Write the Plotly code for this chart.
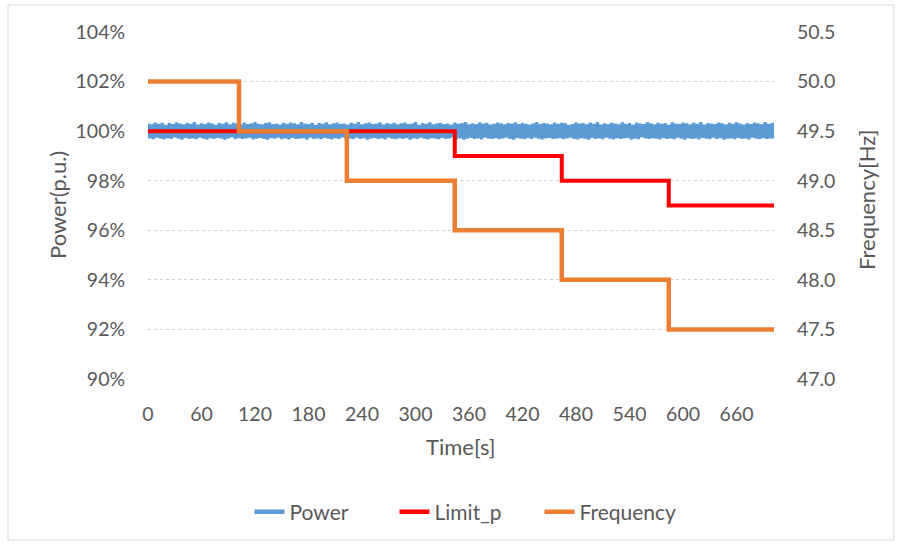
import plotly.graph_objects as go

# ---- data ----
power = [
    100.31, 99.71, 100.27, 99.68, 100.34, 99.74, 100.29, 99.70, 100.33, 99.67, 100.25, 99.72, 100.32, 99.69, 100.28, 99.75,
    100.35, 99.70, 100.30, 99.66, 100.27, 99.73, 100.33, 99.69, 100.29, 99.71, 100.36, 99.68, 100.26, 99.74, 100.31, 99.70,
    100.28, 99.67, 100.34, 99.72, 100.30, 99.69, 100.25, 99.73, 100.32, 99.70, 100.29, 99.66, 100.35, 99.71, 100.27, 99.75,
    100.33, 99.68, 100.30, 99.72, 100.26, 99.69, 100.34, 99.71, 100.28, 99.74, 100.31, 99.67, 100.36, 99.70, 100.29, 99.73,
    100.27, 99.69, 100.32, 99.66, 100.35, 99.72, 100.28, 99.70, 100.30, 99.74, 100.26, 99.68, 100.33, 99.71, 100.29, 99.67,
    100.34, 99.73, 100.31, 99.69, 100.27, 99.70, 100.36, 99.72, 100.30, 99.66, 100.28, 99.74, 100.33, 99.69, 100.25, 99.71,
    100.32, 99.68, 100.29, 99.73, 100.35, 99.70, 100.27, 99.67, 100.31, 99.72, 100.34, 99.69, 100.28, 99.75, 100.30, 99.70,
    100.26, 99.71, 100.33, 99.68, 100.29, 99.74, 100.36, 99.69, 100.27, 99.72, 100.31, 99.66, 100.34, 99.70, 100.28, 99.73,
    100.30, 99.69, 100.35, 99.71, 100.26, 99.67, 100.32, 99.74, 100.29, 99.70, 100.33, 99.68, 100.27, 99.72, 100.31, 99.69,
    100.34, 99.73, 100.28, 99.66, 100.30, 99.71, 100.36, 99.69, 100.25, 99.74, 100.32, 99.70, 100.29, 99.67, 100.35, 99.72,
    100.27, 99.70, 100.31, 99.68, 100.33, 99.73, 100.28, 99.69, 100.30, 99.71, 100.26, 99.75, 100.34, 99.68, 100.29, 99.72,
    100.32, 99.66, 100.36, 99.70, 100.27, 99.73, 100.31, 99.69, 100.28, 99.71, 100.35, 99.67, 100.30, 99.74, 100.33, 99.70,
    100.26, 99.69, 100.29, 99.72, 100.34, 99.68, 100.31, 99.71, 100.27, 99.74, 100.32, 99.69, 100.30, 99.66, 100.35, 99.73,
    100.28, 99.70, 100.33, 99.68, 100.29, 99.72, 100.26, 99.69, 100.31, 99.74, 100.36, 99.70, 100.28, 99.67, 100.32, 99.71,
    100.30, 99.73, 100.27, 99.69, 100.34, 99.70, 100.29, 99.72, 100.33, 99.68, 100.31, 99.71, 100.25, 99.74, 100.28, 99.69,
    100.35, 99.67, 100.30, 99.72, 100.32, 99.70, 100.27, 99.66, 100.34, 99.73, 100.29, 99.69, 100.36, 99.71, 100.26, 99.68,
    100.31, 99.74, 100.28, 99.70, 100.33, 99.67, 100.30, 99.72, 100.27, 99.69, 100.35, 99.71, 100.29, 99.73, 100.32, 99.66,
    100.26, 99.70, 100.34, 99.68, 100.30, 99.75, 100.28, 99.71, 100.36, 99.69, 100.31, 99.72, 100.27, 99.70, 100.33, 99.67,
    100.29, 99.73, 100.32, 99.69, 100.25, 99.71, 100.35, 99.68, 100.30, 99.74, 100.28, 99.70, 100.34, 99.66, 100.31, 99.72,
    100.27, 99.69, 100.33, 99.71, 100.29, 99.67, 100.36, 99.73, 100.26, 99.70, 100.32, 99.68, 100.30, 99.74, 100.28, 99.69,
    100.34, 99.72, 100.31, 99.66, 100.27, 99.70, 100.33, 99.71, 100.29, 99.68, 100.35, 99.73, 100.30, 99.69, 100.26, 99.71,
    100.32, 99.67, 100.28, 99.74, 100.34, 99.70, 100.31, 99.68, 100.27, 99.72, 100.36, 99.69, 100.29, 99.71, 100.33, 99.70,
]
power_step_s = 2
power_t = [i * power_step_s for i in range(len(power))]

limit_t = [0, 344, 464, 584, 702]
limit_p = [100, 99, 98, 97, 97]

freq_t = [0, 102, 223, 344, 464, 584, 702]
freq_hz = [50.0, 49.5, 49.0, 48.5, 48.0, 47.5, 47.5]

series_names = ["Power", "Limit_p", "Frequency"]
series_colors = ["#5B9BD5", "#FF0000", "#ED7D31"]

x_ticks = [0, 60, 120, 180, 240, 300, 360, 420, 480, 540, 600, 660]
y_ticks = [90, 92, 94, 96, 98, 100, 102, 104]
y_tick_text = ["90%", "92%", "94%", "96%", "98%", "100%", "102%", "104%"]
y2_ticks = [47.0, 47.5, 48.0, 48.5, 49.0, 49.5, 50.0, 50.5]
y2_tick_text = ["47.0", "47.5", "48.0", "48.5", "49.0", "49.5", "50.0", "50.5"]

# ---- styling ----
FONT = "Lato"
TXT = "#595959"
GRID = "#CFCFCF"
TICK_SIZE = 19.5
TITLE_SIZE = 22
LEG_SIZE = 21
W, H = 899, 546
L, R, T, B = 148, 774, 32, 379

fig = go.Figure()
fig.add_trace(go.Scatter(x=power_t, y=power, mode="lines", name=series_names[0], showlegend=False,
                         line=dict(color=series_colors[0], width=3.2)))
fig.add_trace(go.Scatter(x=limit_t, y=limit_p, mode="lines", name=series_names[1], showlegend=False,
                         line=dict(color=series_colors[1], width=4, shape="hv")))
fig.add_trace(go.Scatter(x=freq_t, y=freq_hz, mode="lines", name=series_names[2], yaxis="y2",
                         showlegend=False,
                         line=dict(color=series_colors[2], width=4.5, shape="hv")))
# legend entries (thicker keys like the original)
for nm, col in zip(series_names, series_colors):
    fig.add_trace(go.Scatter(x=[None], y=[None], mode="lines", name=nm,
                             line=dict(color=col, width=4.5)))

pw = R - L
ph = B - T

def px_x(p):
    return (p - L) / pw

def px_y(p):
    return (B - p) / ph

fig.update_layout(
    width=W, height=H,
    margin=dict(l=L, r=W - R, t=T, b=H - B),
    paper_bgcolor="white", plot_bgcolor="white",
    font=dict(family=FONT, size=TICK_SIZE, color=TXT),
    showlegend=True,
    hovermode=False,
    legend=dict(orientation="h", x=px_x(467), xanchor="center", y=px_y(512), yanchor="middle",
                font=dict(size=LEG_SIZE, color=TXT), entrywidth=100, entrywidthmode="pixels",
                traceorder="normal"),
    xaxis=dict(range=[0, 702], tickmode="array", tickvals=x_ticks, showgrid=False,
               zeroline=False, showline=False, ticks="outside", ticklen=18,
               tickcolor="rgba(0,0,0,0)", tickfont=dict(size=TICK_SIZE, color=TXT)),
    yaxis=dict(range=[90, 104], tickmode="array", tickvals=y_ticks, ticktext=y_tick_text,
               showgrid=True, gridcolor=GRID, griddash="dot", gridwidth=1,
               zeroline=False, showline=False, ticks="outside", ticklen=18,
               tickcolor="rgba(0,0,0,0)", tickfont=dict(size=TICK_SIZE, color=TXT)),
    yaxis2=dict(range=[47.0, 50.5], tickmode="array", tickvals=y2_ticks, ticktext=y2_tick_text,
                overlaying="y", side="right", showgrid=False, zeroline=False, showline=False,
                ticks="outside", ticklen=18, tickcolor="rgba(0,0,0,0)",
                tickfont=dict(size=TICK_SIZE, color=TXT)),
    shapes=[dict(type="rect", xref="paper", yref="paper",
                 x0=px_x(8), x1=px_x(894), y0=px_y(540), y1=px_y(5),
                 line=dict(color="#D9D9D9", width=1), fillcolor="rgba(0,0,0,0)", layer="below")],
    annotations=[
        dict(text="Power(p.u.)", xref="paper", yref="paper", x=px_x(57), y=px_y(205),
             textangle=-90, showarrow=False, font=dict(size=TITLE_SIZE, color=TXT),
             xanchor="center", yanchor="middle"),
        dict(text="Frequency[Hz]", xref="paper", yref="paper", x=px_x(866), y=px_y(200),
             textangle=-90, showarrow=False, font=dict(size=TITLE_SIZE, color=TXT),
             xanchor="center", yanchor="middle"),
        dict(text="Time[s]", xref="paper", yref="paper", x=px_x(461), y=px_y(447),
             showarrow=False, font=dict(size=TITLE_SIZE, color=TXT),
             xanchor="center", yanchor="middle"),
    ],
)

fig.write_html("out.html")
